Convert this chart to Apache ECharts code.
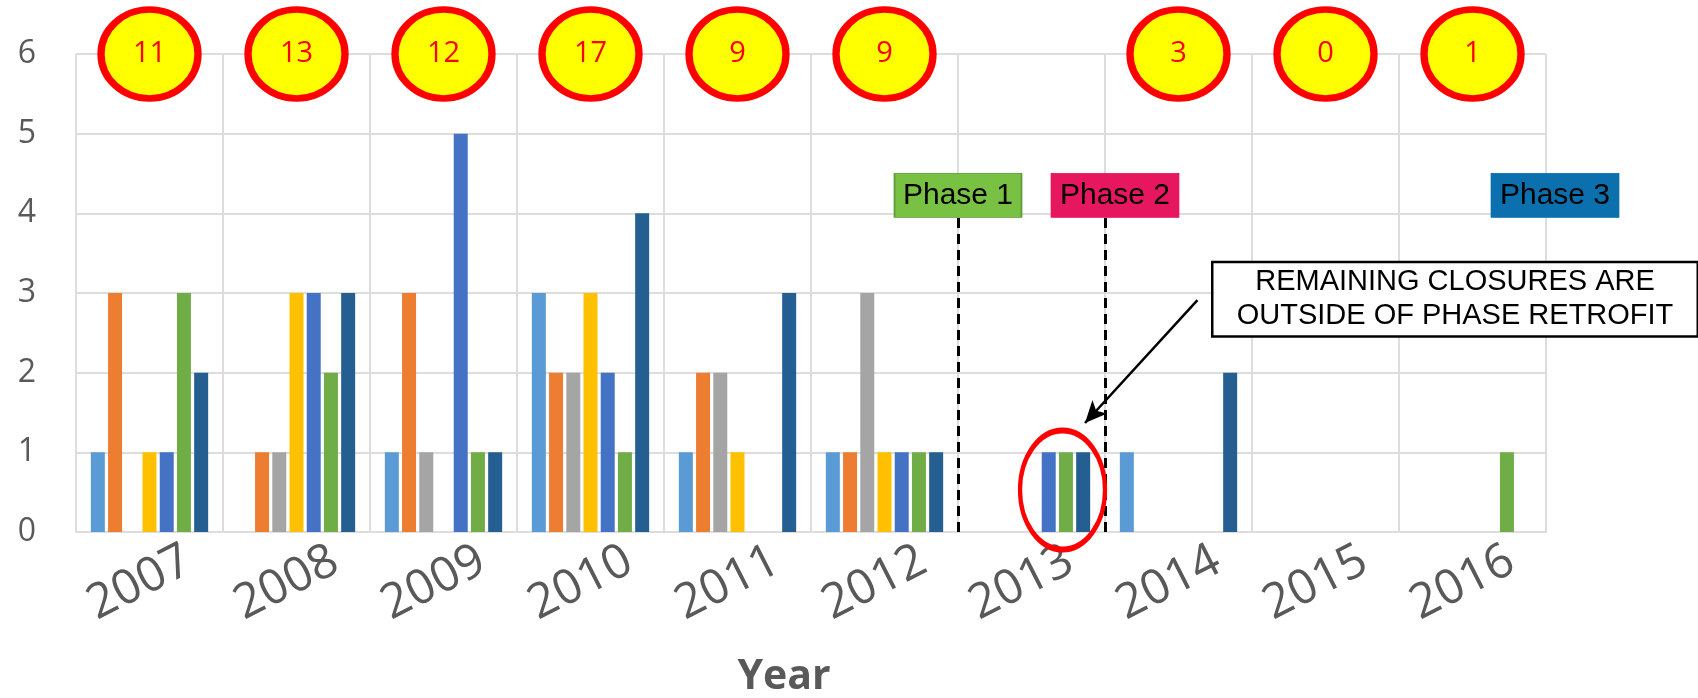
<!DOCTYPE html>
<html>
<head>
<meta charset="utf-8">
<script src="https://cdn.jsdelivr.net/npm/echarts@6/dist/echarts.min.js"></script>
<style>
  html, body { margin: 0; padding: 0; background: #ffffff; }
  #chart { width: 1698px; height: 698px; }
</style>
</head>
<body>
<div id="chart"></div>
<script>
// Closures per year, split into seven groups
const years = ['2007', '2008', '2009', '2010', '2011', '2012', '2013', '2014', '2015', '2016'];
const groupNames = ['Group A', 'Group B', 'Group C', 'Group D', 'Group E', 'Group F', 'Group G'];
const groupA = [1, 0, 1, 3, 1, 1, 0, 1, 0, 0];
const groupB = [3, 1, 3, 2, 2, 1, 0, 0, 0, 0];
const groupC = [0, 1, 1, 2, 2, 3, 0, 0, 0, 0];
const groupD = [1, 3, 0, 3, 1, 1, 0, 0, 0, 0];
const groupE = [1, 3, 5, 2, 0, 1, 1, 0, 0, 0];
const groupF = [3, 2, 1, 1, 0, 1, 1, 0, 0, 1];
const groupG = [2, 3, 1, 4, 3, 1, 1, 2, 0, 0];

// Yearly totals shown in the badges (2013 has no badge)
const yearTotals = [11, 13, 12, 17, 9, 9, null, 3, 0, 1];

// Value axis ticks
const yTicks = [0, 1, 2, 3, 4, 5, 6];

// Retrofit phases and the year boundary where each one sits
const phaseNames = ['Phase 1', 'Phase 2', 'Phase 3'];
const phaseBoundary = [6, 7, 10];

const calloutLines = ['REMAINING CLOSURES ARE', 'OUTSIDE OF PHASE RETROFIT'];

// ---- styling ----
const barColors = ['#5B9BD5', '#ED7D31', '#A5A5A5', '#FFC000', '#4472C4', '#70AD47', '#255E91'];
const phaseFill = ['#78C143', '#E6175F', '#0D70AE'];
const phaseEdge = ['#5E9A35', '#E6175F', '#0D70AE'];
const phaseBoxShift = [0, 10, 9];
const phaseLineFrom = [0, 0, -0.09];
const phaseLineTo = 4;
const gridColor = '#dddddd';
const textGray = '#595959';

const groups = [groupA, groupB, groupC, groupD, groupE, groupF, groupG];
const yMax = yTicks[yTicks.length - 1];

const series = groups.map((vals, k) => ({
  name: groupNames[k],
  type: 'bar',
  xAxisIndex: 0,
  yAxisIndex: 0,
  data: vals,
  barWidth: 14,
  barGap: '23%',
  itemStyle: { color: barColors[k] },
  silent: true,
  z: 2
}));

// Total badges above each year
series.push({
  name: 'Total',
  type: 'scatter',
  xAxisIndex: 0,
  yAxisIndex: 0,
  clip: false,
  silent: true,
  z: 5,
  symbol: 'circle',
  symbolSize: [97, 89],
  itemStyle: { color: '#FFFF00', borderColor: '#FF0000', borderWidth: 7, opacity: 1 },
  label: {
    show: true,
    position: 'inside',
    formatter: p => String(p.value[2]),
    color: '#FF0000',
    fontSize: 29,
    fontFamily: 'Open Sans'
  },
  data: yearTotals
    .map((t, i) => (t === null ? null : [i, yMax, t]))
    .filter(d => d !== null)
});

// Phase boundaries: dashed line plus a coloured tag
phaseNames.forEach((nm, k) => {
  series.push({
    name: nm,
    type: 'line',
    xAxisIndex: 1,
    yAxisIndex: 0,
    data: [],
    silent: true,
    z: 4,
    markLine: {
      silent: true,
      symbol: ['none', 'none'],
      lineStyle: { color: '#000000', width: 3, type: [10, 6] },
      label: { show: false },
      emphasis: { disabled: true },
      data: [[
        { coord: [phaseBoundary[k], phaseLineFrom[k]] },
        { coord: [phaseBoundary[k], phaseLineTo] }
      ]]
    },
    markPoint: {
      silent: true,
      data: [{
        coord: [phaseBoundary[k], phaseLineTo],
        symbol: 'rect',
        symbolSize: [127, 44],
        symbolOffset: [phaseBoxShift[k], -18],
        itemStyle: { color: phaseFill[k], borderColor: phaseEdge[k], borderWidth: 1 },
        label: {
          show: true,
          position: 'inside',
          formatter: nm,
          color: '#000000',
          fontSize: 30,
          fontFamily: 'Liberation Sans'
        }
      }]
    }
  });
});

// Callout, arrow and highlight ring around the 2013 closures
series.push({
  name: 'Note',
  type: 'line',
  xAxisIndex: 1,
  yAxisIndex: 0,
  data: [],
  silent: true,
  z: 10,
  markLine: {
    silent: true,
    symbol: ['none', 'arrow'],
    symbolSize: [15, 22],
    lineStyle: { color: '#000000', width: 2.5, type: 'solid' },
    label: { show: false },
    emphasis: { disabled: true },
    data: [[{ coord: [7.629, 2.911] }, { coord: [6.864, 1.368] }]]
  },
  markPoint: {
    silent: true,
    data: [
      {
        coord: [9.381, 2.923],
        symbol: 'rect',
        symbolSize: [1, 1],
        itemStyle: { color: 'rgba(255,255,255,0)' },
        label: {
          show: true,
          position: 'inside',
          formatter: calloutLines.join('\n'),
          color: '#000000',
          fontSize: 29,
          lineHeight: 34,
          fontFamily: 'Liberation Sans',
          width: 477,
          align: 'center',
          verticalAlign: 'middle',
          padding: [2, 3],
          backgroundColor: '#ffffff',
          borderColor: '#000000',
          borderWidth: 2.5
        }
      },
      {
        coord: [6.711, 0.527],
        symbol: 'circle',
        symbolSize: [85, 119],
        itemStyle: { color: 'rgba(255,255,255,0)', borderColor: '#FF0000', borderWidth: 5 },
        label: { show: false }
      }
    ]
  }
});

const chart = echarts.init(document.getElementById('chart'), null, { renderer: 'canvas' });
chart.setOption({
  animation: false,
  backgroundColor: '#ffffff',
  grid: { left: 76, right: 152, top: 54, bottom: 166, containLabel: false, outerBoundsMode: 'none' },
  xAxis: [
    {
      type: 'category',
      data: years,
      axisLine: { show: true, lineStyle: { color: gridColor, width: 2 } },
      axisTick: { show: false },
      splitLine: { show: true, interval: 0, lineStyle: { color: gridColor, width: 2 } },
      axisLabel: {
        interval: 0,
        rotate: 27,
        align: 'center',
        verticalAlign: 'middle',
        margin: 46,
        padding: [0, 22, 0, 0],
        fontSize: 48,
        fontFamily: 'Open Sans',
        color: textGray
      },
      name: 'Year',
      nameLocation: 'middle',
      nameGap: 125,
      nameTextStyle: {
        fontSize: 41,
        fontWeight: 'bold',
        fontFamily: 'Open Sans',
        color: textGray,
        padding: [0, 54, 0, 0]
      }
    },
    {
      type: 'value',
      min: 0,
      max: years.length,
      show: false
    }
  ],
  yAxis: {
    type: 'value',
    min: yTicks[0],
    max: yMax,
    interval: 1,
    axisLine: { show: false },
    axisTick: { show: false },
    splitLine: { show: true, lineStyle: { color: gridColor, width: 2 } },
    axisLabel: {
      margin: 40,
      fontSize: 32,
      fontFamily: 'Open Sans',
      color: textGray
    }
  },
  series: series
});
</script>
</body>
</html>
